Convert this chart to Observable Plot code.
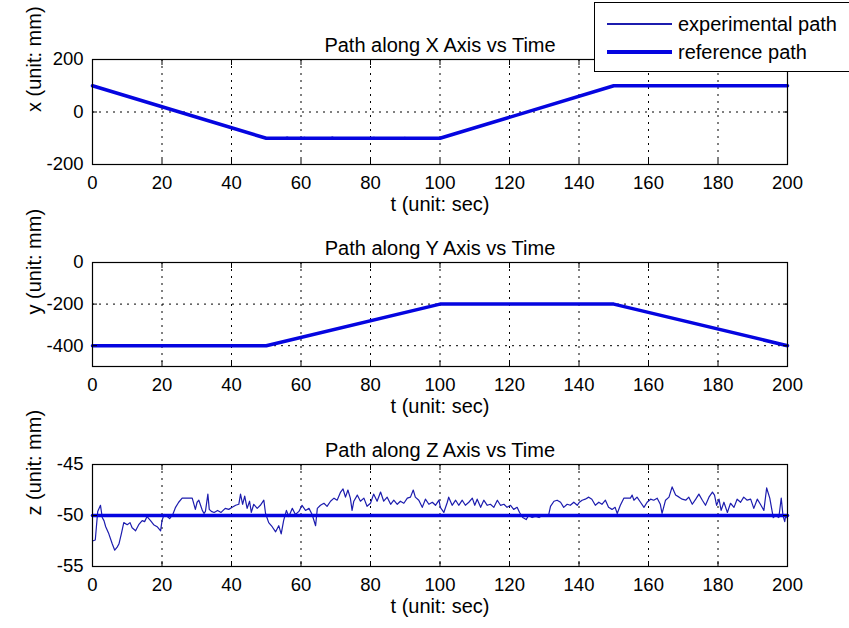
<!DOCTYPE html>
<html>
<head>
<meta charset="utf-8">
<script src="https://cdn.jsdelivr.net/npm/d3@7"></script>
<script src="https://cdn.jsdelivr.net/npm/@observablehq/plot@0.6"></script>
<style>
  body { margin: 0; background: #fff; }
  #fig { position: relative; width: 849px; height: 628px; overflow: hidden; background: #fff;
         font-family: "Liberation Sans", Arial, sans-serif; }
  .panel { position: absolute; left: 0; }
  #legend { position: absolute; left: 594px; top: 2px; width: 262px; height: 70px;
            border: 1px solid #000; background: #fff; box-sizing: border-box; z-index: 5; font-size: 20px; }
  #legend .row { position: absolute; left: 0; height: 24px; }
  #legend .sample { position: absolute; left: 12px; width: 65px; }
  #legend .lbl { position: absolute; left: 83px; top: 0; line-height: 24px; white-space: nowrap; }
</style>
</head>
<body>
<div id="fig"><div id="legend"></div></div>
<script>
// ---------- data ----------
const tTicks = [0, 20, 40, 60, 80, 100, 120, 140, 160, 180, 200];
const tGrid = [20, 40, 60, 80, 100, 120, 140, 160, 180];

const xTicks = [-200, 0, 200];
const xGrid = [0];
const yTicks = [-400, -200, 0];
const yGrid = [-400, -200];
const zTicks = [-55, -50, -45];
const zGrid = [-50];

const seriesNames = ["experimental path", "reference path"];
const titles = ["Path along X Axis vs Time", "Path along Y Axis vs Time", "Path along Z Axis vs Time"];
const yLabels = ["x (unit: mm)", "y (unit: mm)", "z (unit: mm)"];
const xLabel = "t (unit: sec)";

// reference paths
const tRef = [0, 50, 100, 150, 200];
const xRef = [100, -100, -100, 100, 100];
const yRef = [-400, -400, -200, -200, -400];
const tRefZ = [0, 200];
const zRef = [-50, -50];

// experimental X
const tExpX = [0, 10, 20, 30, 40, 50, 55, 56, 57, 60, 61, 62, 68, 69, 70, 80, 81, 82, 88, 90, 92, 93, 95, 97, 100, 110, 120, 130, 140, 150, 160, 170, 180, 190, 200];
const xExp  = [100, 60, 20, -20, -60, -100, -100, -95, -100, -100, -96, -100, -100, -95, -100, -100, -96, -100, -100, -97, -104, -100, -104, -100, -100, -60, -20, 20, 60, 100, 100, 100, 100, 100, 100];

// experimental Y
const tExpY = [0, 10, 20, 30, 40, 50, 60, 70, 80, 90, 100, 110, 120, 130, 140, 150, 160, 170, 180, 190, 200];
const yExp  = [-400, -400, -400, -400, -400, -400, -360, -320, -280, -240, -200, -200, -200, -200, -200, -200, -240, -280, -320, -360, -400];

// experimental Z
const tExpZ = [0, 0.8, 1.5, 2.3, 2.8, 3.3, 3.8, 4.7, 5.7, 6.4, 7.1, 7.6, 8.3, 9.0, 10.0, 10.8, 11.4, 12.4, 13.3, 14.3, 15.0, 15.7, 16.7, 17.6, 18.6, 19.6,
  20.0, 20.6, 21.5, 22.2, 23.1, 23.9, 24.8, 25.8, 26.5, 28.7, 29.6, 30.1, 30.6, 31.1, 31.6, 32.1, 32.5, 33.2, 33.6, 34.2, 35.0, 36.0, 37.0, 38.2, 39.2,
  40.2, 41.2, 42.1, 42.6, 43.2, 43.8, 44.5, 45.2, 45.7, 46.4, 47.4, 48.3, 49.3, 49.8, 50.7, 51.7, 52.7, 53.6, 54.3, 55.0, 55.8, 56.5, 57.5, 58.4, 59.4,
  60.3, 61.3, 62.3, 63.2, 64.2, 64.7, 65.6, 66.6, 67.5, 68.5, 69.5, 70.4, 71.4, 72.1, 72.8, 73.5, 74.2, 74.7, 75.2, 76.2, 77.1, 78.1, 79.0,
  80.0, 80.9, 81.9, 82.9, 83.8, 84.8, 85.8, 86.7, 87.7, 88.6, 89.6, 90.6, 91.5, 92.3, 92.9, 93.9, 94.9, 95.8, 96.8, 97.8, 98.7, 99.7,
  100.1, 101.1, 102.1, 102.5, 103.5, 104.5, 105.4, 106.4, 107.3, 108.3, 109.3, 110.0, 110.7, 111.7, 112.6, 113.6, 114.5, 115.5, 116.5, 117.4, 118.4, 119.3,
  120.3, 121.2, 122.2, 122.9, 123.8, 124.8, 125.5, 126.5, 127.5, 128.5, 129.4, 131.3, 131.8, 132.8, 133.7, 134.7, 135.6, 136.6, 137.5, 138.5, 139.5,
  140.1, 140.9, 141.8, 142.8, 143.7, 144.7, 145.7, 146.6, 147.6, 148.5, 149.5, 150.4, 151.0, 151.9, 152.9, 153.9, 154.8, 155.3, 155.8, 156.7, 157.7, 158.7, 159.6,
  160.6, 161.5, 162.5, 163.4, 163.9, 164.9, 165.9, 166.8, 167.8, 168.8, 169.7, 170.7, 171.6, 172.6, 173.6, 174.5, 175.5, 176.4, 177.4, 178.4, 179.0, 179.6,
  180.3, 180.9, 181.7, 182.7, 183.6, 184.6, 185.5, 186.5, 187.4, 188.4, 189.4, 190.3, 191.3, 192.2, 193.2, 194.0, 194.9, 195.9, 196.6, 197.5, 198.2, 198.7, 199.2, 199.5, 200];
const zExp = [-52.5, -52.4, -49.6, -49.0, -50.2, -50.5, -51.1, -51.8, -52.8, -53.4, -53.1, -52.8, -51.8, -50.7, -50.9, -50.7, -51.2, -51.5, -50.9, -50.5, -50.6, -50.1, -50.5, -50.9, -51.1, -51.5,
  -50.5, -49.9, -50.1, -50.3, -49.9, -49.2, -48.7, -48.3, -48.3, -48.3, -49.4, -48.7, -48.5, -49.0, -49.5, -49.8, -49.6, -47.9, -49.4, -49.6, -49.7, -49.5, -49.7, -49.3, -49.4,
  -49.2, -49.0, -48.9, -47.9, -48.9, -48.1, -49.3, -48.6, -49.7, -48.9, -49.3, -49.0, -48.5, -49.8, -50.7, -51.1, -51.6, -51.0, -51.8, -50.5, -49.5, -50.1, -49.3, -49.9, -49.6,
  -49.0, -49.5, -49.3, -49.9, -51.0, -49.3, -49.0, -48.8, -49.1, -48.6, -48.3, -48.5, -47.7, -47.4, -48.2, -47.5, -48.3, -49.5, -48.6, -48.0, -48.6, -48.3, -49.1,
  -48.8, -47.9, -48.6, -47.7, -48.6, -48.2, -48.9, -48.5, -48.9, -48.6, -48.8, -48.3, -48.2, -47.5, -48.2, -48.5, -49.2, -48.4, -48.9, -48.7, -49.0, -48.5,
  -49.2, -49.7, -48.7, -48.2, -49.0, -48.5, -49.0, -48.5, -49.0, -48.7, -48.3, -49.0, -48.4, -49.2, -48.5, -49.0, -48.9, -49.2, -48.5, -49.0, -48.9, -49.2,
  -49.0, -49.4, -49.2, -49.7, -50.2, -50.4, -50.0, -50.2, -50.1, -50.2, -50.0, -49.9, -49.1, -48.6, -48.5, -48.7, -49.2, -48.9, -49.0, -48.7, -49.0,
  -48.7, -48.5, -48.4, -48.2, -48.4, -49.0, -48.7, -48.9, -48.5, -49.2, -49.4, -49.2, -49.8, -49.0, -48.3, -48.3, -48.3, -48.0, -48.5, -48.2, -48.7, -49.2, -48.7,
  -48.4, -48.5, -48.3, -48.9, -49.8, -48.5, -48.2, -47.2, -48.0, -48.2, -48.4, -48.5, -48.2, -48.9, -48.4, -47.9, -48.5, -49.0, -48.2, -47.7, -48.0, -49.0,
  -48.4, -49.5, -48.7, -49.7, -48.8, -49.2, -48.4, -48.7, -48.2, -48.5, -48.4, -49.3, -48.4, -48.9, -49.5, -47.3, -48.3, -50.2, -50.0, -50.2, -48.3, -50.0, -50.6, -50.0, -50.3];

// ---------- styling ----------
const FONT = '"Liberation Sans", Arial, Helvetica, sans-serif';
const EXP_COLOR = "#1c1cae";
const REF_COLOR = "#0505e0";
const TICK_FS = 18.5;
const TEXT_FS = 20;
const fmt = d => String(d);

const toRows = (ts, vs) => ts.map((t, i) => ({t, v: vs[i]}));

function panel({top, height, mt, mb, domain, ticks, grid, title, ylabel, exp, ref}) {
  const dotted = {stroke: "black", strokeOpacity: 1, strokeWidth: 1, strokeDasharray: "2,5"};
  const svg = Plot.plot({
    width: 849, height,
    marginTop: mt, marginBottom: mb, marginLeft: 92, marginRight: 62,
    style: {fontFamily: FONT, fontSize: TICK_FS + "px", color: "black", background: "white", overflow: "visible"},
    x: {domain: [0, 200]},
    y: {domain},
    marks: [
      Plot.gridX({ticks: tGrid, ...dotted}),
      Plot.gridY({ticks: grid, ...dotted}),
      Plot.line(exp, {x: "t", y: "v", stroke: EXP_COLOR, strokeWidth: 1.2}),
      Plot.line(ref, {x: "t", y: "v", stroke: REF_COLOR, strokeWidth: 3.5}),
      Plot.frame({stroke: "black", strokeWidth: 1.2}),
      Plot.axisX({ticks: tTicks, anchor: "bottom", tickSize: -5, tickFormat: () => "", label: null}),
      Plot.axisX({ticks: tTicks, anchor: "top", tickSize: -5, tickFormat: () => "", label: null}),
      Plot.axisX({ticks: tTicks, anchor: "bottom", tickSize: 0, tickPadding: 11, tickFormat: fmt, label: null, fontSize: TICK_FS}),
      Plot.axisY({ticks, anchor: "left", tickSize: -5, tickFormat: () => "", label: null}),
      Plot.axisY({ticks, anchor: "right", tickSize: -5, tickFormat: () => "", label: null}),
      Plot.axisY({ticks, anchor: "left", tickSize: 0, tickPadding: 9, tickFormat: fmt, label: null, fontSize: TICK_FS}),
      Plot.text([title], {text: d => d, frameAnchor: "top", dy: -22, fontSize: TEXT_FS}),
      Plot.text([xLabel], {text: d => d, frameAnchor: "bottom", dy: 46, fontSize: TEXT_FS}),
      Plot.text([ylabel], {text: d => d, frameAnchor: "left", dx: -58, rotate: -90, fontSize: TEXT_FS})
    ]
  });
  svg.classList.add("panel");
  svg.style.top = top + "px";
  document.getElementById("fig").appendChild(svg);
}

panel({top: 0, height: 220, mt: 59, mb: 56, domain: [-200, 200], ticks: xTicks, grid: xGrid,
       title: titles[0], ylabel: yLabels[0], exp: toRows(tExpX, xExp), ref: toRows(tRef, xRef)});
panel({top: 220, height: 202, mt: 42, mb: 56, domain: [-500, 0], ticks: yTicks, grid: yGrid,
       title: titles[1], ylabel: yLabels[1], exp: toRows(tExpY, yExp), ref: toRows(tRef, yRef)});
panel({top: 422, height: 206, mt: 42, mb: 62, domain: [-55, -45], ticks: zTicks, grid: zGrid,
       title: titles[2], ylabel: yLabels[2], exp: toRows(tExpZ, zExp), ref: toRows(tRefZ, zRef)});

// legend
const legend = document.getElementById("legend");
const rows = [
  {name: seriesNames[0], color: EXP_COLOR, w: 1.2, top: 9},
  {name: seriesNames[1], color: REF_COLOR, w: 3.5, top: 37}
];
rows.forEach(r => {
  const row = document.createElement("div");
  row.className = "row";
  row.style.top = r.top + "px";
  row.style.width = "100%";
  const s = document.createElement("div");
  s.className = "sample";
  s.style.top = (12 - r.w / 2) + "px";
  s.style.height = r.w + "px";
  s.style.background = r.color;
  const l = document.createElement("span");
  l.className = "lbl";
  l.textContent = r.name;
  row.appendChild(s);
  row.appendChild(l);
  legend.appendChild(row);
});
</script>
</body>
</html>
